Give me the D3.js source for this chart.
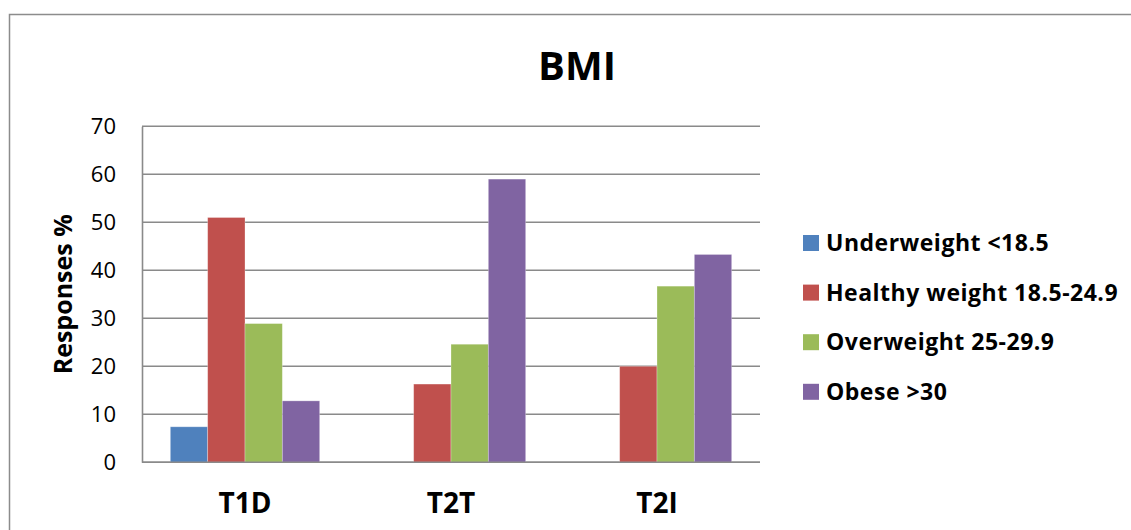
<!DOCTYPE html>
<html>
<head>
<meta charset="utf-8">
<script src="https://cdn.jsdelivr.net/npm/d3@7"></script>
<style>
  html, body { margin: 0; padding: 0; background: #fff; }
  svg { display: block; font-family: "Open Sans", Lato, sans-serif; }
</style>
</head>
<body>
<svg id="chart" width="1131" height="530"></svg>
<script>
// BMI distribution by diabetes group
const categories = ["T1D", "T2T", "T2I"];
const seriesNames = ["Underweight <18.5", "Healthy weight 18.5-24.9", "Overweight 25-29.9", "Obese >30"];
const underweight = [7.4, null, null];
const healthy = [51, 16.3, 20];
const overweight = [28.9, 24.6, 36.7];
const obese = [12.8, 59, 43.3];
const yTicks = [0, 10, 20, 30, 40, 50, 60, 70];
const colors = ["#4f81bd", "#c0504d", "#9bbb59", "#8064a2"];

const seriesValues = [underweight, healthy, overweight, obese];

const svg = d3.select("#chart");

// outer frame
svg.append("rect")
  .attr("x", 9.5).attr("y", 14.5)
  .attr("width", 1200).attr("height", 600)
  .attr("fill", "none").attr("stroke", "#8c8c8c").attr("stroke-width", 1.5);

const plot = { left: 142, right: 760, top: 126.3, bottom: 462.3 };

const y = d3.scaleLinear().domain([0, 70]).range([plot.bottom, plot.top]);
const x0 = d3.scaleBand().domain(categories)
  .range([plot.left, plot.right]).paddingInner(0.275).paddingOuter(0.1375);
const x1 = d3.scaleBand().domain(seriesNames).range([0, x0.bandwidth()]);

// gridlines
svg.append("g")
  .selectAll("line").data(yTicks).join("line")
  .attr("x1", plot.left).attr("x2", plot.right)
  .attr("y1", d => y(d)).attr("y2", d => y(d))
  .attr("stroke", "#8a8a8a").attr("stroke-width", 1.6);

// y axis
const yAxis = svg.append("g")
  .attr("transform", `translate(${plot.left},0)`)
  .call(d3.axisLeft(y).tickValues(yTicks).tickSize(0).tickPadding(26));
yAxis.select(".domain").attr("stroke", "#8a8a8a").attr("stroke-width", 1.6);
yAxis.selectAll("text")
  .attr("font-family", "'Open Sans', sans-serif")
  .attr("font-size", 22).attr("fill", "#000");

// bars
const groups = svg.append("g").selectAll("g")
  .data(seriesNames).join("g")
  .attr("fill", (d, i) => colors[i]);

groups.each(function (name, si) {
  const vals = seriesValues[si];
  d3.select(this).selectAll("rect")
    .data(categories.map((c, ci) => ({ c, v: vals[ci] })).filter(d => d.v != null))
    .join("rect")
    .attr("x", d => x0(d.c) + x1(name))
    .attr("width", x1.bandwidth())
    .attr("y", d => y(d.v))
    .attr("height", d => y(0) - y(d.v))
    .attr("stroke", "rgba(255,255,255,0.35)")
    .attr("stroke-width", 0.8);
});

// x axis
const xAxis = svg.append("g")
  .attr("transform", `translate(0,${plot.bottom})`)
  .call(d3.axisBottom(x0).tickSize(0).tickPadding(31));
xAxis.select(".domain")
  .attr("d", `M${plot.left},0H${plot.right}`)
  .attr("stroke", "#8a8a8a").attr("stroke-width", 1.6);
xAxis.selectAll("text")
  .attr("font-family", "'Open Sans', sans-serif")
  .attr("font-size", 28).attr("font-weight", "bold").attr("fill", "#000");

// title
svg.append("text")
  .attr("x", 577).attr("y", 79.5)
  .attr("text-anchor", "middle")
  .attr("font-size", 40).attr("font-weight", "bold")
  .text("BMI");

// y axis title
svg.append("text")
  .attr("transform", `translate(72,${(plot.top + plot.bottom) / 2}) rotate(-90)`)
  .attr("text-anchor", "middle")
  .attr("font-size", 25).attr("font-weight", "bold")
  .text("Responses %");

// legend
const legend = svg.append("g").selectAll("g")
  .data(seriesNames).join("g")
  .attr("transform", (d, i) => `translate(803,${243 + i * 49.6})`);
legend.append("rect")
  .attr("x", 0).attr("y", -8).attr("width", 16).attr("height", 16)
  .attr("fill", (d, i) => colors[i]);
legend.append("text")
  .attr("x", 23).attr("y", 8)
  .attr("font-size", 23).attr("font-weight", "bold")
  .attr("letter-spacing", 0.5)
  .text(d => d);
</script>
</body>
</html>
